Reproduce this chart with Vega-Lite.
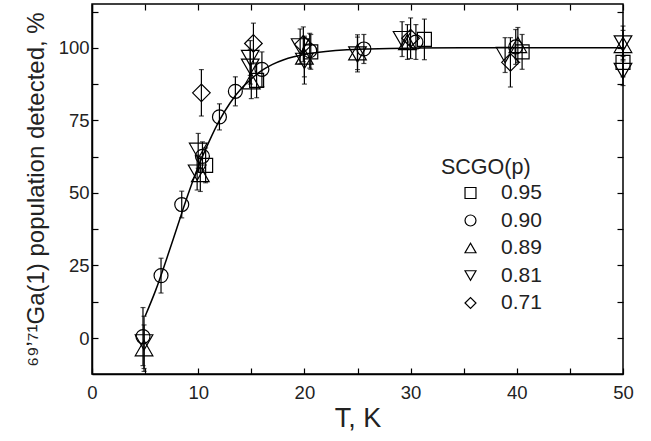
{
  "$schema": "https://vega.github.io/schema/vega-lite/v6.json",
  "autosize": {"type": "none"},
  "width": 531,
  "height": 370,
  "padding": {"left": 92, "top": 4, "right": 28, "bottom": 67},
  "background": "white",
  "config": {
    "view": {"stroke": "black", "strokeWidth": 1.5},
    "font": "Liberation Sans",
    "axis": {
      "grid": false,
      "domainColor": "black",
      "domainWidth": 1.5,
      "tickColor": "black",
      "tickWidth": 1.2,
      "tickSize": -6,
      "labelFont": "Liberation Sans",
      "labelFontSize": 18.5,
      "labelColor": "#222",
      "titleFont": "Liberation Sans",
      "titleFontSize": 24,
      "titleFontWeight": "normal",
      "titleColor": "#222"
    },
    "legend": {
      "orient": "none",
      "legendX": 349,
      "legendY": 153,
      "titleFont": "Liberation Sans",
      "titleFontSize": 21.5,
      "titleFontWeight": "normal",
      "titleColor": "#222",
      "labelFont": "Liberation Sans",
      "labelFontSize": 21,
      "labelColor": "#222",
      "symbolOffset": 19,
      "labelOffset": 20,
      "rowPadding": 5.5,
      "titlePadding": 4,
      "symbolSize": 120,
      "symbolStrokeWidth": 1.2
    }
  },
  "datasets": {
    "pts": [
      {"series": "0.95", "T": 10.7, "v": 59.5, "e": 6},
      {"series": "0.95", "T": 15.5, "v": 88.8, "e": 6},
      {"series": "0.95", "T": 20.6, "v": 98.6, "e": 6},
      {"series": "0.95", "T": 31.3, "v": 102.9, "e": 7},
      {"series": "0.95", "T": 40.5, "v": 98.6, "e": 6},
      {"series": "0.95", "T": 50, "v": 95, "e": 5},
      {"series": "0.90", "T": 4.8, "v": 0.5, "e": 10},
      {"series": "0.90", "T": 6.5, "v": 21.5, "e": 6},
      {"series": "0.90", "T": 8.45, "v": 46, "e": 4.6},
      {"series": "0.90", "T": 10.4, "v": 62.6, "e": 5},
      {"series": "0.90", "T": 12.0, "v": 76.2, "e": 4.5},
      {"series": "0.90", "T": 13.5, "v": 85, "e": 5},
      {"series": "0.90", "T": 16.0, "v": 92.6, "e": 6},
      {"series": "0.90", "T": 20.5, "v": 99, "e": 6},
      {"series": "0.90", "T": 25.6, "v": 99.6, "e": 5},
      {"series": "0.90", "T": 30.5, "v": 102, "e": 6},
      {"series": "0.90", "T": 39.9, "v": 100.3, "e": 6},
      {"series": "0.89", "T": 4.9, "v": -3.5, "e": 8},
      {"series": "0.89", "T": 10.2, "v": 56.5, "e": 6},
      {"series": "0.89", "T": 15.0, "v": 88.5, "e": 6},
      {"series": "0.89", "T": 20.0, "v": 97, "e": 7},
      {"series": "0.89", "T": 25.0, "v": 98.5, "e": 6},
      {"series": "0.89", "T": 29.7, "v": 102, "e": 6},
      {"series": "0.89", "T": 40.1, "v": 101, "e": 6},
      {"series": "0.89", "T": 50, "v": 101, "e": 5},
      {"series": "0.81", "T": 4.9, "v": -1.5, "e": 9},
      {"series": "0.81", "T": 10.0, "v": 64.5, "e": 6},
      {"series": "0.81", "T": 9.9, "v": 57, "e": 6},
      {"series": "0.81", "T": 14.9, "v": 96.5, "e": 6},
      {"series": "0.81", "T": 14.9, "v": 93.5, "e": 6},
      {"series": "0.81", "T": 19.6, "v": 100.5, "e": 6},
      {"series": "0.81", "T": 20.0, "v": 95.5, "e": 8},
      {"series": "0.81", "T": 25.0, "v": 97.7, "e": 6},
      {"series": "0.81", "T": 29.2, "v": 103, "e": 6},
      {"series": "0.81", "T": 38.9, "v": 97.5, "e": 6},
      {"series": "0.81", "T": 50, "v": 101.5, "e": 6},
      {"series": "0.81", "T": 50, "v": 92, "e": 5},
      {"series": "0.71", "T": 10.3, "v": 84.5, "e": 8},
      {"series": "0.71", "T": 15.2, "v": 101.5, "e": 7},
      {"series": "0.71", "T": 19.9, "v": 101.2, "e": 6},
      {"series": "0.71", "T": 30.0, "v": 103.3, "e": 7},
      {"series": "0.71", "T": 39.4, "v": 95, "e": 8.5}
    ],
    "fit": [
      {"T": 5, "v": 7.5},
      {"T": 6, "v": 16.5},
      {"T": 7, "v": 27},
      {"T": 8, "v": 38},
      {"T": 9, "v": 49},
      {"T": 10, "v": 59},
      {"T": 11, "v": 67.5},
      {"T": 12, "v": 75},
      {"T": 13, "v": 81},
      {"T": 14, "v": 85.7},
      {"T": 15, "v": 89.3},
      {"T": 16, "v": 92.2},
      {"T": 17, "v": 94.3},
      {"T": 18, "v": 95.8},
      {"T": 19, "v": 96.9},
      {"T": 20, "v": 97.7},
      {"T": 22, "v": 98.7},
      {"T": 24, "v": 99.3},
      {"T": 26, "v": 99.6},
      {"T": 28, "v": 99.8},
      {"T": 30, "v": 99.9},
      {"T": 35, "v": 100},
      {"T": 40, "v": 100},
      {"T": 50, "v": 100}
    ]
  },
  "resolve": {"axis": {"x": "independent", "y": "independent"}},
  "layer": [
    {
      "data": {"name": "fit"},
      "mark": {"type": "line", "color": "black", "strokeWidth": 1.5, "interpolate": "monotone", "clip": true},
      "encoding": {
        "x": {
          "field": "T", "type": "quantitative",
          "scale": {"domain": [0, 50], "nice": false, "zero": false},
          "axis": {
            "orient": "bottom",
            "values": [0, 5, 10, 15, 20, 25, 30, 35, 40, 45, 50],
            "labelExpr": "datum.value % 10 === 0 ? datum.label : ''",
            "labelFlush": false,
            "labelPadding": 15,
            "title": "T, K",
            "titleFontSize": 27,
            "titlePadding": 4
          }
        },
        "y": {
          "field": "v", "type": "quantitative",
          "scale": {"domain": [-12.4, 115.1], "nice": false, "zero": false},
          "axis": {
            "orient": "left",
            "values": [0, 12.5, 25, 37.5, 50, 62.5, 75, 87.5, 100, 112.5],
            "labelExpr": "datum.value % 25 === 0 ? datum.label : ''",
            "labelPadding": 9,
            "title": "⁶⁹ʼ⁷¹Ga(1) population detected, %",
            "titlePadding": 10
          }
        }
      }
    },
    {
      "data": {"name": "pts"},
      "transform": [
        {"calculate": "datum.v - datum.e", "as": "lo"},
        {"calculate": "datum.v + datum.e", "as": "hi"}
      ],
      "mark": {"type": "rule", "color": "black", "strokeWidth": 1.2},
      "encoding": {
        "x": {
          "field": "T", "type": "quantitative",
          "axis": {
            "orient": "top",
            "values": [0, 5, 10, 15, 20, 25, 30, 35, 40, 45, 50],
            "labels": false, "domain": false, "title": null
          }
        },
        "y": {
          "field": "lo", "type": "quantitative",
          "axis": {
            "orient": "right",
            "values": [0, 12.5, 25, 37.5, 50, 62.5, 75, 87.5, 100, 112.5],
            "labels": false, "domain": false, "title": null
          }
        },
        "y2": {"field": "hi"}
      }
    },
    {
      "data": {"name": "pts"},
      "transform": [
        {"calculate": "datum.v - datum.e", "as": "lo"}
      ],
      "mark": {"type": "tick", "orient": "horizontal", "color": "black", "size": 5, "thickness": 1.2},
      "encoding": {
        "x": {"field": "T", "type": "quantitative", "axis": null},
        "y": {"field": "lo", "type": "quantitative", "axis": null}
      }
    },
    {
      "data": {"name": "pts"},
      "transform": [
        {"calculate": "datum.v + datum.e", "as": "hi"}
      ],
      "mark": {"type": "tick", "orient": "horizontal", "color": "black", "size": 5, "thickness": 1.2},
      "encoding": {
        "x": {"field": "T", "type": "quantitative", "axis": null},
        "y": {"field": "hi", "type": "quantitative", "axis": null}
      }
    },
    {
      "data": {"name": "pts"},
      "transform": [{"filter": "datum.series === '0.95' || datum.series === '0.90'"}],
      "mark": {"type": "point", "filled": false, "color": "black", "strokeWidth": 1.2, "opacity": 1, "size": 195, "clip": false},
      "encoding": {
        "x": {"field": "T", "type": "quantitative", "axis": null},
        "y": {"field": "v", "type": "quantitative", "axis": null},
        "shape": {
          "field": "series", "type": "nominal",
          "scale": {
            "domain": ["0.95", "0.90", "0.89", "0.81", "0.71"],
            "range": ["square", "circle", "triangle-up", "triangle-down", "diamond"]
          },
          "legend": {"title": "SCGO(p)"}
        }
      }
    },
    {
      "data": {"name": "pts"},
      "transform": [{"filter": "datum.series !== '0.95' && datum.series !== '0.90'"}],
      "mark": {"type": "point", "filled": false, "color": "black", "strokeWidth": 1.2, "opacity": 1, "size": 310, "clip": false},
      "encoding": {
        "x": {"field": "T", "type": "quantitative", "axis": null},
        "y": {"field": "v", "type": "quantitative", "axis": null},
        "shape": {
          "field": "series", "type": "nominal",
          "legend": {"title": "SCGO(p)"}
        }
      }
    }
  ]
}
